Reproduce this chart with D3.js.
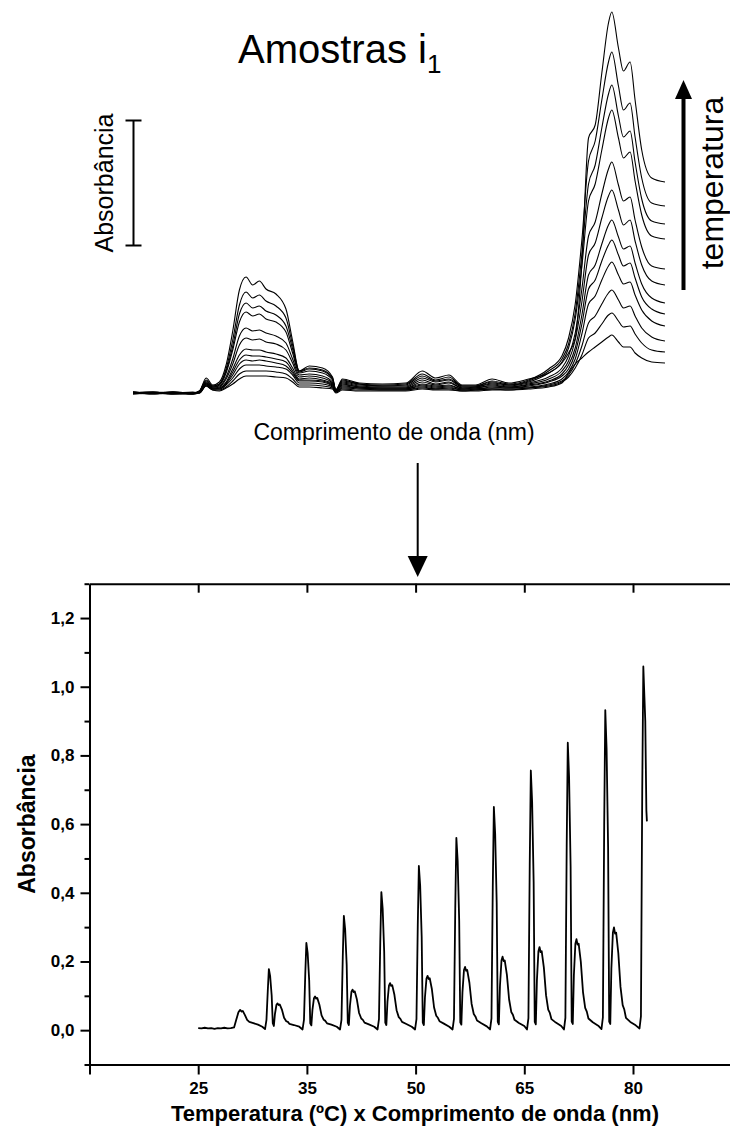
<!DOCTYPE html>
<html>
<head>
<meta charset="utf-8">
<script src="https://cdn.jsdelivr.net/npm/d3@7"></script>
<style>
  html, body { margin: 0; padding: 0; background: #fff; }
  svg { display: block; font-family: "Liberation Sans", Arial, Helvetica, sans-serif; }
</style>
</head>
<body>
<svg id="fig" width="730" height="1129"></svg>
<script>
// ---------- Espectros UV (painel superior) ----------
// comprimento de onda (nm)
const comprimentoOnda = [190, 196, 202, 208, 210, 212, 214, 216, 218, 220, 222, 224, 226, 228, 230,
  233, 236, 238, 240, 243, 247, 250, 251, 253, 258,
  265, 272, 277, 281, 285, 289, 293, 298, 303, 309,
  315, 319, 321, 323, 325, 327, 329, 331, 333, 334,
  336, 337.5, 339.5, 341, 343, 346, 350];

// absorbância (mAU), da menor para a maior temperatura
const espectro01 = [4,0,0,-4, 0,28,12,8,20,36,56,68,68,68,68, 64,60,44,24,24,20,16,0,12,8, 8,8,16,12,12,8,8,12,12,16, 24,40,80,116,140,164,184,204,224,232, 204,184,184,160,140,124,120];
const espectro02 = [0,0,4,0, 0,28,12,12,24,48,76,88,88,88,88, 84,76,56,32,32,28,20,4,16,12, 12,12,20,16,16,8,12,16,12,20, 28,44,64,100,152,220,240,276,312,320, 288,264,268,236,200,172,164];
const espectro03 = [-4,0,0,4, 0,32,16,16,32,60,96,112,112,112,108, 104,96,72,40,40,36,24,4,20,16, 12,12,24,16,20,12,12,16,16,20, 32,48,72,116,188,280,308,356,400,412, 372,340,348,308,260,224,208];
const espectro04 = [0,4,-4,0, 4,32,16,16,36,72,116,132,128,132,128, 120,108,80,48,48,44,28,4,24,20, 16,16,28,20,24,12,16,20,20,24, 36,56,84,136,236,356,388,452,508,524, 472,436,444,392,332,288,268];
const espectro05 = [4,-4,0,0, 4,36,16,20,40,84,132,152,148,148,144, 136,124,88,52,52,48,32,8,28,20, 16,16,32,24,28,16,16,24,20,28, 44,68,96,160,276,416,452,528,592,612, 552,508,520,460,384,336,316];
const espectro06 = [0,0,4,-4, 4,36,20,20,44,96,152,176,172,172,164, 156,140,100,56,60,52,36,8,32,24, 20,20,36,28,32,16,20,28,24,32, 48,76,112,180,312,472,512,596,672,692, 624,576,588,520,436,380,360];
const espectro07 = [4,0,-4,0, 4,40,20,24,56,116,192,220,212,216,204, 196,172,120,64,68,60,40,8,36,24, 20,20,44,32,40,20,20,32,24,36, 56,88,128,212,364,552,600,700,788,812, 732,672,692,608,512,448,432];
const espectro08 = [0,4,0,-4, 4,40,24,28,64,136,228,260,248,252,240, 228,200,136,72,76,68,44,8,40,28, 24,24,52,36,44,20,24,36,28,40, 64,100,148,240,416,628,684,796,896,924, 832,768,784,692,584,508,496];
const espectro09 = [-4,0,4,0, 4,44,24,32,80,172,284,324,308,316,296, 284,244,160,80,88,80,52,12,44,32, 28,28,60,44,52,24,24,40,32,44, 80,124,180,296,508,768,836,972,1100,1132, 1020,940,964,848,712,628,616];
const espectro10 = [0,-4,4,0, 8,48,28,36,88,188,316,360,340,348,328, 312,268,176,84,96,88,56,12,48,36, 28,32,68,48,56,28,28,44,32,48, 88,136,196,320,556,836,912,1060,1196,1232, 1108,1024,1048,924,776,688,676];
const espectro11 = [4,0,0,-4, 8,52,28,36,96,212,352,404,380,392,368, 348,300,192,88,100,92,60,12,52,36, 32,36,76,52,64,28,28,48,36,52, 96,148,220,356,612,928,1008,1172,1324,1364, 1228,1132,1160,1024,860,760,748];
const espectro12 = [0,4,-4,0, 8,60,32,44,112,248,412,464,432,448,416, 396,336,208,88,108,100,64,12,56,40, 36,40,88,60,72,32,32,56,40,56, 80,120,160,220,520,1020,1072,1280,1480,1524, 1380,1288,1324,1172,972,860,844];

const espectros = [espectro01, espectro02, espectro03, espectro04, espectro05, espectro06,
  espectro07, espectro08, espectro09, espectro10, espectro11, espectro12];

// barra de escala vertical (mAU)
const barraEscala = [590, 1090];

// ---------- Espectros concatenados (painel inferior) ----------
// [ponto, absorbância]
const serieConcatenada = [
  [100,0.006],[103,0.005],[106,0.007],[109,0.005],[112,0.006],[115,0.004],[118,0.006],[121,0.005],
  [124,0.007],[127,0.005],[130,0.006],[133,0.008],[135,0.030],[137,0.052],[138.6,0.059],[140,0.054],
  [141,0.056],[143,0.044],[145,0.030],[147,0.024],[150,0.021],[155,0.016],[159,0.010],[161.5,0.003],

  [162.8,0.030],[164.0,0.114],[165.0,0.178],[166.2,0.157],[167.6,0.101],[168.6,0.020],[169.6,0.012],
  [170.6,0.047],[172.0,0.074],[173.0,0.078],[174.0,0.073],[175.0,0.075],[177.0,0.060],[179.0,0.036],
  [181.0,0.026],[182.5,0.024],[184.0,0.018],[188.0,0.015],[193.0,0.010],[196.0,0.002],

  [197.3,0.030],[198.5,0.163],[199.5,0.254],[200.7,0.224],[202.1,0.145],[203.1,0.020],[204.1,0.014],
  [205.1,0.059],[206.5,0.093],[207.5,0.098],[208.5,0.092],[209.5,0.094],[211.5,0.074],[213.5,0.043],
  [215.5,0.030],[217.0,0.027],[218.5,0.020],[222.5,0.016],[227.5,0.010],[230.5,0.002],

  [231.8,0.030],[233.0,0.213],[234.0,0.333],[235.2,0.293],[236.6,0.190],[237.6,0.022],[238.6,0.015],
  [239.6,0.071],[241.0,0.112],[242.0,0.118],[243.0,0.111],[244.0,0.113],[246.0,0.089],[248.0,0.050],
  [250.0,0.034],[251.5,0.030],[253.0,0.022],[257.0,0.017],[262.0,0.010],[265.0,0.002],

  [266.3,0.032],[267.5,0.257],[268.5,0.402],[269.7,0.354],[271.1,0.229],[272.1,0.022],[273.1,0.015],
  [274.1,0.082],[275.5,0.130],[276.5,0.137],[277.5,0.129],[278.5,0.131],[280.5,0.103],[282.5,0.058],
  [284.5,0.038],[286.0,0.033],[287.5,0.024],[291.5,0.018],[296.5,0.010],[299.5,0.002],

  [300.8,0.032],[302.0,0.306],[303.0,0.478],[304.2,0.421],[305.6,0.272],[306.6,0.022],[307.6,0.015],
  [308.6,0.095],[310.0,0.150],[311.0,0.158],[312.0,0.149],[313.0,0.151],[315.0,0.119],[317.0,0.066],
  [319.0,0.042],[320.5,0.036],[322.0,0.026],[326.0,0.019],[331.0,0.010],[334.0,0.002],

  [335.3,0.033],[336.5,0.358],[337.5,0.560],[338.7,0.493],[340.1,0.319],[341.1,0.023],[342.1,0.016],
  [343.1,0.110],[344.5,0.175],[345.5,0.184],[346.5,0.173],[347.5,0.175],[349.5,0.138],[351.5,0.077],
  [353.5,0.047],[355.0,0.040],[356.5,0.028],[360.5,0.020],[365.5,0.011],[368.5,0.002],

  [369.8,0.034],[371.0,0.416],[372.0,0.650],[373.2,0.572],[374.6,0.371],[375.6,0.024],[376.6,0.017],
  [377.6,0.128],[379.0,0.203],[380.0,0.214],[381.0,0.201],[382.0,0.203],[384.0,0.161],[386.0,0.090],
  [388.0,0.053],[389.5,0.045],[391.0,0.030],[395.0,0.021],[400.0,0.012],[402.5,0.002],

  [403.8,0.035],[405.0,0.484],[406.0,0.756],[407.2,0.665],[408.6,0.431],[409.6,0.024],[410.6,0.017],
  [411.6,0.145],[413.0,0.230],[414.0,0.242],[415.0,0.227],[416.0,0.230],[418.0,0.182],[420.0,0.102],
  [422.0,0.060],[423.5,0.050],[425.0,0.032],[429.0,0.022],[434.0,0.012],[436.5,0.002],

  [437.8,0.036],[439.0,0.536],[440.0,0.837],[441.2,0.737],[442.6,0.477],[443.6,0.025],[444.6,0.018],
  [445.6,0.159],[447.0,0.252],[448.0,0.265],[449.0,0.249],[450.0,0.252],[452.0,0.199],[454.0,0.111],
  [456.0,0.065],[457.5,0.054],[459.0,0.034],[463.0,0.023],[468.0,0.013],[471.0,0.003],

  [472.3,0.037],[473.5,0.596],[474.5,0.932],[475.7,0.820],[477.1,0.531],[478.1,0.025],[479.1,0.018],
  [480.1,0.179],[481.5,0.284],[482.5,0.299],[483.5,0.281],[484.5,0.284],[486.5,0.224],[488.5,0.126],
  [490.5,0.073],[492.0,0.060],[493.5,0.036],[497.5,0.024],[502.5,0.014],[506.0,0.005],

  [507.3,0.040],[508.5,0.700],[509.5,1.059],[510.5,0.970],[511.3,0.900],[512.3,0.640],[512.8,0.608]
];

const posicoesX = [0, 100, 200, 300, 400, 500, 600];
const rotulosX = ["", "25", "35", "50", "65", "80", ""];
const ticksY = [0, 0.2, 0.4, 0.6, 0.8, 1.0, 1.2];
const ticksYMenores = [-0.1, 0.1, 0.3, 0.5, 0.7, 0.9, 1.1, 1.3];

// ---------- desenho ----------
const svg = d3.select("#fig");

// painel superior
const xTopo = d3.scaleLinear().domain([190, 350]).range([133, 665]);
const yTopo = d3.scaleLinear().domain([0, 1520]).range([393, 13]);

const linhaTopo = d3.line()
  .x((d, i) => xTopo(comprimentoOnda[i]))
  .y(d => yTopo(d))
  .curve(d3.curveMonotoneX);

const gTopo = svg.append("g");
espectros.forEach(s => {
  gTopo.append("path")
    .attr("d", linhaTopo(s))
    .attr("fill", "none")
    .attr("stroke", "#000")
    .attr("stroke-width", 1.1)
    .attr("stroke-linejoin", "round");
});

svg.append("text")
  .attr("x", 238).attr("y", 63)
  .attr("font-size", 40)
  .text("Amostras i")
  .append("tspan")
  .attr("font-size", 26).attr("dy", 10)
  .text("1");

// barra de escala de absorbância
const xBarra = 133.5;
const gBarra = svg.append("g").attr("stroke", "#000").attr("stroke-width", 2);
gBarra.append("line").attr("x1", xBarra).attr("x2", xBarra)
  .attr("y1", yTopo(barraEscala[0])).attr("y2", yTopo(barraEscala[1]));
barraEscala.forEach(v => {
  gBarra.append("line").attr("x1", xBarra - 8).attr("x2", xBarra + 8)
    .attr("y1", yTopo(v)).attr("y2", yTopo(v));
});
svg.append("text")
  .attr("transform", `translate(113,${(yTopo(barraEscala[0]) + yTopo(barraEscala[1])) / 2}) rotate(-90)`)
  .attr("text-anchor", "middle")
  .attr("font-size", 25)
  .text("Absorbância");

// seta de temperatura
svg.append("line").attr("x1", 683.5).attr("x2", 683.5).attr("y1", 290).attr("y2", 96)
  .attr("stroke", "#000").attr("stroke-width", 4);
svg.append("path").attr("d", "M683.5,80 L675,99 L692,99 Z").attr("fill", "#000");
svg.append("text")
  .attr("transform", "translate(723,183) rotate(-90)")
  .attr("text-anchor", "middle")
  .attr("font-size", 32)
  .text("temperatura");

svg.append("text")
  .attr("x", 394).attr("y", 440)
  .attr("text-anchor", "middle")
  .attr("font-size", 23)
  .text("Comprimento de onda (nm)");

// seta para baixo
svg.append("line").attr("x1", 417.7).attr("x2", 417.7).attr("y1", 463).attr("y2", 560)
  .attr("stroke", "#000").attr("stroke-width", 2);
svg.append("path").attr("d", "M417.7,577 L407.7,556 L427.7,556 Z").attr("fill", "#000");

// painel inferior
const xBaixo = d3.scaleLinear().domain([0, 600]).range([89.5, 741.7]);
const yBaixo = d3.scaleLinear().domain([-0.1, 1.3]).range([1064.5, 583.7]);

const fmtVirgula = d => d3.format(".1f")(d).replace(".", ",");

const gEixos = svg.append("g");

gEixos.append("g").attr("transform", `translate(${xBaixo(0)},0)`)
  .call(d3.axisLeft(yBaixo).tickValues(ticksY).tickSize(9).tickSizeOuter(0).tickPadding(6).tickFormat(fmtVirgula));
gEixos.append("g").attr("transform", `translate(${xBaixo(0)},0)`)
  .call(d3.axisLeft(yBaixo).tickValues(ticksYMenores).tickSize(5).tickSizeOuter(0).tickFormat(""))
  .select(".domain").remove();

gEixos.append("g").attr("transform", `translate(0,${yBaixo(-0.1)})`)
  .call(d3.axisBottom(xBaixo).tickValues(posicoesX).tickSize(10).tickSizeOuter(0).tickPadding(7)
    .tickFormat((d, i) => rotulosX[i]));

gEixos.append("g").attr("transform", `translate(0,${yBaixo(1.3)})`)
  .call(d3.axisTop(xBaixo).tickValues(posicoesX.slice(1)).tickSize(-9).tickSizeOuter(0).tickFormat(""));

gEixos.append("g").attr("transform", `translate(${xBaixo(600)},0)`)
  .call(d3.axisRight(yBaixo).tickValues(ticksY).tickSize(-9).tickSizeOuter(0).tickFormat(""));

gEixos.selectAll("path.domain, .tick line").attr("stroke", "#000").attr("stroke-width", 2);
gEixos.selectAll(".tick text")
  .attr("fill", "#000")
  .attr("font-family", "'Liberation Sans', Arial, sans-serif")
  .attr("font-size", 17)
  .attr("font-weight", "bold");

const linhaBaixo = d3.line()
  .x(d => xBaixo(d[0]))
  .y(d => yBaixo(d[1]));

svg.append("path")
  .attr("d", linhaBaixo(serieConcatenada))
  .attr("fill", "none")
  .attr("stroke", "#000")
  .attr("stroke-width", 1.8)
  .attr("stroke-linejoin", "round");

svg.append("text")
  .attr("transform", `translate(35,${(yBaixo(-0.1) + yBaixo(1.3)) / 2}) rotate(-90)`)
  .attr("text-anchor", "middle")
  .attr("font-size", 23)
  .attr("font-weight", "bold")
  .text("Absorbância");

svg.append("text")
  .attr("x", 415).attr("y", 1121)
  .attr("text-anchor", "middle")
  .attr("font-size", 22)
  .attr("font-weight", "bold")
  .text("Temperatura (ºC) x Comprimento de onda (nm)");
</script>
</body>
</html>
